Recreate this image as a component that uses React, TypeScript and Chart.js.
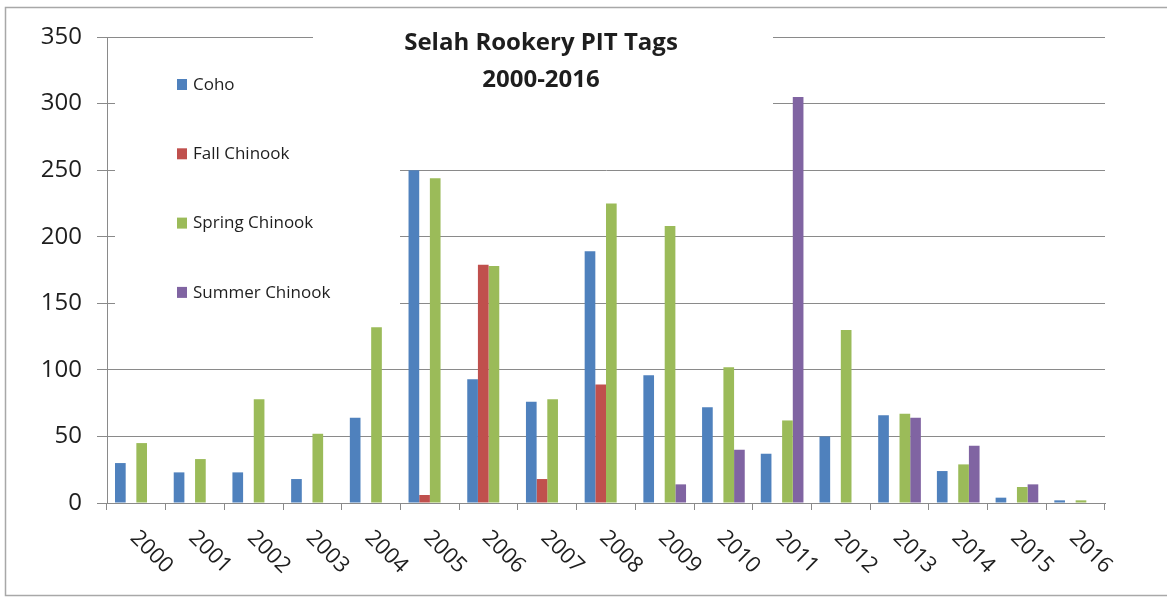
import React, { useEffect, useRef } from "react";
import { Chart, registerables } from "chart.js";

Chart.register(...registerables);

// Tag counts per release year
const years = ["2000", "2001", "2002", "2003", "2004", "2005", "2006", "2007", "2008", "2009", "2010", "2011", "2012", "2013", "2014", "2015", "2016"];
const coho = [30, 23, 23, 18, 64, 250, 93, 76, 189, 96, 72, 37, 50, 66, 24, 4, 2];
const fallChinook = [null, null, null, null, null, 6, 179, 18, 89, null, null, null, null, null, null, null, null];
const springChinook = [45, 33, 78, 52, 132, 244, 178, 78, 225, 208, 102, 62, 130, 67, 29, 12, 2];
const summerChinook = [null, null, null, null, null, null, null, null, null, 14, 40, 305, null, 64, 43, 14, null];

const yTicks = [0, 50, 100, 150, 200, 250, 300, 350];
const titleLines = ["Selah Rookery PIT Tags", "2000-2016"];

const seriesNames = ["Coho", "Fall Chinook", "Spring Chinook", "Summer Chinook"];
const seriesColors = ["#4F81BD", "#C0504D", "#9BBB59", "#8064A2"];

const GRID = "#8a8a8a";
const TEXT = "#1e1e1e";
const FONT = "'Open Sans', 'Liberation Sans', sans-serif";

// Title, legend, rotated year labels and the outer frame
const decorPlugin = {
  id: "decor",
  beforeDatasetsDraw(chart: any) {
    const ctx = chart.ctx;
    ctx.save();
    // white panels behind the title and the legend
    ctx.fillStyle = "#ffffff";
    ctx.fillRect(313, 26, 460, 86);
    ctx.fillRect(115, 46, 285, 272);

    ctx.fillStyle = TEXT;
    ctx.textAlign = "center";
    ctx.textBaseline = "middle";
    ctx.font = `bold 24px ${FONT}`;
    ctx.fillText(titleLines[0], 541, 43);
    ctx.fillText(titleLines[1], 541, 80);

    ctx.textAlign = "left";
    ctx.font = `17px ${FONT}`;
    chart.data.datasets.forEach((ds: any, i: number) => {
      const y = 85 + i * 69.3;
      ctx.fillStyle = ds.backgroundColor;
      ctx.fillRect(177, y - 6, 10, 11);
      ctx.fillStyle = TEXT;
      ctx.fillText(ds.label, 193, y);
    });
    ctx.restore();
  },
  afterDraw(chart: any) {
    const ctx = chart.ctx;
    const xs = chart.scales.x;
    ctx.save();
    ctx.fillStyle = TEXT;
    ctx.font = `22px ${FONT}`;
    ctx.textAlign = "center";
    ctx.textBaseline = "middle";
    chart.data.labels.forEach((lab: string, i: number) => {
      const cx = xs.getPixelForValue(i);
      ctx.save();
      ctx.translate(cx + 15, xs.top + 49);
      ctx.rotate(Math.PI / 4);
      ctx.fillText(lab, 0, 0);
      ctx.restore();
    });
    ctx.strokeStyle = "#a8a8a8";
    ctx.lineWidth = 1.5;
    ctx.strokeRect(5.5, 7.5, 1180, 588);
    ctx.restore();
  },
};

export default function App() {
  const canvasRef = useRef<HTMLCanvasElement | null>(null);

  useEffect(() => {
    if (!canvasRef.current) return;
    const series = [coho, fallChinook, springChinook, summerChinook];
    const chart = new Chart(canvasRef.current, {
      type: "bar",
      data: {
        labels: years,
        datasets: series.map((data, i) => ({
          label: seriesNames[i],
          data,
          backgroundColor: seriesColors[i],
          borderWidth: 0,
          categoryPercentage: 0.727,
          barPercentage: 1,
        })),
      },
      options: {
        responsive: false,
        animation: false,
        layout: { padding: { top: 37, right: 62, left: 0, bottom: 0 } },
        plugins: {
          legend: { display: false },
          title: { display: false },
          tooltip: { enabled: false },
        },
        scales: {
          x: {
            offset: true,
            grid: {
              offset: true,
              drawOnChartArea: false,
              drawTicks: true,
              tickLength: 7,
              color: GRID,
            },
            border: { color: GRID, width: 1 },
            ticks: { display: false },
            afterFit: (scale: any) => {
              scale.height = 96;
            },
          },
          y: {
            min: 0,
            max: 350,
            afterBuildTicks: (scale: any) => {
              scale.ticks = yTicks.map((v) => ({ value: v }));
            },
            grid: { color: GRID, tickLength: 10, drawTicks: true },
            border: { color: GRID, width: 1 },
            ticks: {
              padding: 15,
              color: TEXT,
              font: { family: FONT, size: 24 },
            },
            afterFit: (scale: any) => {
              scale.width = 107;
            },
          },
        },
      },
      plugins: [decorPlugin],
    });
    return () => chart.destroy();
  }, []);

  return (
    <div style={{ position: "absolute", left: 0, top: 0, width: 1167, height: 599, background: "#fff" }}>
      <canvas ref={canvasRef} width={1167} height={599} />
    </div>
  );
}
